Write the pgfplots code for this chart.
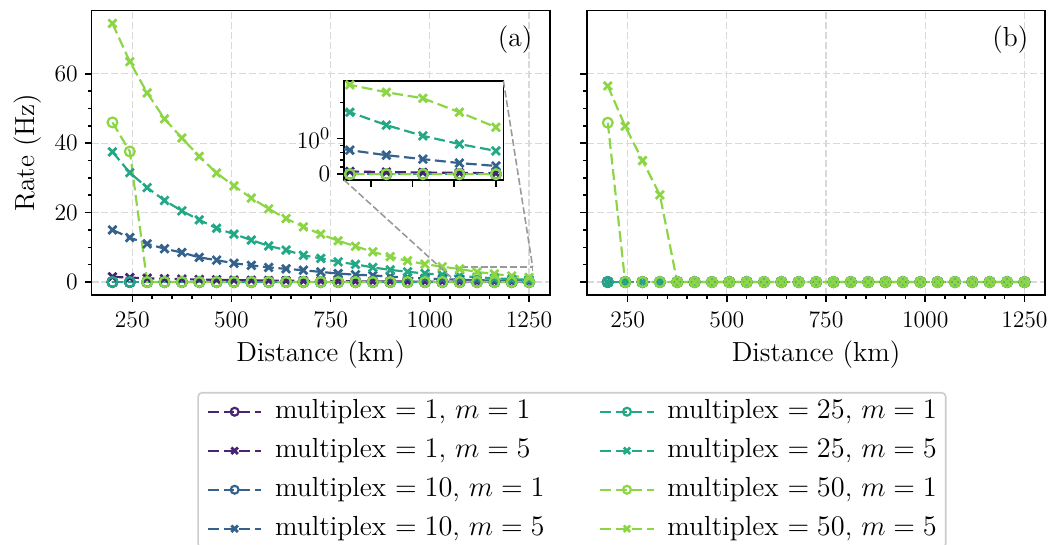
\documentclass[border=0pt]{standalone}
\usepackage{pgfplots}
\usepackage{pgfplotstable}
\pgfplotsset{compat=1.18}

\definecolor{vpurple}{RGB}{72,36,117}
\definecolor{vblue}{RGB}{51,99,141}
\definecolor{vteal}{RGB}{34,168,132}
\definecolor{vgreen}{RGB}{140,214,70}

% rates (Hz) per distance, panel (a)
\pgfplotstableread{
d       r11 r15   r101 r105 r251 r255 r501 r505
200     0   1.49  0    15.0 0    37.5 46.0 74.5
243.75  0   1.27  0    12.8 0    31.5 37.6 63.5
287.5   0   1.09  0    11.0 0    27.2 0    54.5
331.25  0   0.94  0    9.6  0    23.5 0    47.0
375     0   0.83  0    8.5  0    20.5 0    41.5
418.75  0   0.72  0    7.1  0    17.9 0    36.2
462.5   0   0.63  0    6.3  0    15.5 0    31.4
506.25  0   0.55  0    5.4  0    13.8 0    27.7
550     0   0.48  0    4.8  0    12.1 0    24.2
593.75  0   0.42  0    4.2  0    10.4 0    21.1
637.5   0   0.37  0    3.8  0    9.2  0    18.3
681.25  0   0.32  0    3.4  0    7.7  0    15.9
725     0   0.28  0    2.9  0    6.8  0    13.8
768.75  0   0.24  0    2.45 0    5.8  0    11.9
812.5   0   0.21  0    2.1  0    5.1  0    10.3
856.25  0   0.17  0    1.9  0    4.2  0    8.7
900     0   0.15  0    1.54 0    3.5  0    7.3
943.75  0   0.12  0    1.25 0    2.95 0    6.1
987.5   0   0.10  0    1.02 0    2.47 0    5.15
1031.25 0   0.088 0    0.83 0    2.07 0    4.4
1075    0   0.075 0    0.67 0    1.73 0    3.76
1118.75 0   0.058 0    0.53 0    1.37 0    2.89
1162.5  0   0.047 0    0.42 0    1.07 0    2.33
1206.25 0   0.035 0    0.31 0    0.84 0    1.73
1250    0   0.026 0    0.23 0    0.65 0    1.31
}\rateA

% panel (b)
\pgfplotstableread{
d       r11 r15 r101 r105 r251 r255 r501 r505
200     0   0   0    0    0    0    45.9 56.5
243.75  0   0   0    0    0    0    0    44.9
287.5   0   0   0    0    0    0    0    35.0
331.25  0   0   0    0    0    0    0    25.1
375     0   0   0    0    0    0    0    0
418.75  0   0   0    0    0    0    0    0
462.5   0   0   0    0    0    0    0    0
506.25  0   0   0    0    0    0    0    0
550     0   0   0    0    0    0    0    0
593.75  0   0   0    0    0    0    0    0
637.5   0   0   0    0    0    0    0    0
681.25  0   0   0    0    0    0    0    0
725     0   0   0    0    0    0    0    0
768.75  0   0   0    0    0    0    0    0
812.5   0   0   0    0    0    0    0    0
856.25  0   0   0    0    0    0    0    0
900     0   0   0    0    0    0    0    0
943.75  0   0   0    0    0    0    0    0
987.5   0   0   0    0    0    0    0    0
1031.25 0   0   0    0    0    0    0    0
1075    0   0   0    0    0    0    0    0
1118.75 0   0   0    0    0    0    0    0
1162.5  0   0   0    0    0    0    0    0
1206.25 0   0   0    0    0    0    0    0
1250    0   0   0    0    0    0    0    0
}\rateB

\tikzset{
    ser/.style={color=#1, line width=1.1pt, dash pattern=on 5.5pt off 2.4pt},
    mo/.style={ser=#1, mark=o, mark size=2.5pt, mark options={solid, line width=1.1pt}},
    mx/.style={ser=#1, mark=x, mark size=2.9pt, mark options={solid, line width=1.4pt}},
    zoombox/.style={black!40, line width=0.8pt, dash pattern=on 3.5pt off 1.5pt},
}
\pgfplotsset{
    panel/.style={
        scale only axis, width=232.6pt, height=144.3pt,
        xmin=147.5, xmax=1302.5, ymin=-3.73, ymax=78.2,
        xtick={250,500,750,1000,1250}, minor x tick num=4,
        ytick={0,20,40,60}, minor y tick num=3,
        /pgf/number format/set thousands separator={},
        tick align=outside, tick pos=left,
        major tick length=3.5pt, minor tick length=2pt,
        every tick/.style={black, line width=0.8pt},
        tick label style={font=\fontsize{13}{15}\selectfont},
        axis line style={line width=0.8pt},
        grid=major,
        major grid style={black!15, line width=0.6pt, dash pattern=on 3.5pt off 1.5pt},
        xticklabel shift=1.5pt,
        xlabel={Distance (km)},
    },
}

\begin{document}
\begin{tikzpicture}[font=\fontsize{14}{16}\selectfont]
\begin{axis}[panel, name=pa, at={(0pt,0pt)}, anchor=south west,
    ylabel={Rate (Hz)},
    legend columns=4, transpose legend, legend cell align=left,
    legend image code/.code={\draw[mark repeat=2,mark phase=2,#1,
        every mark/.append style={scale=0.8}]
        plot coordinates {(0pt,0pt) (13.5pt,0pt) (27pt,0pt)};},
    legend style={at={(1.048,-0.341)}, anchor=north, draw=black!20,
        line width=0.8pt, rounded corners=2pt, fill=white,
        inner xsep=4.5pt, inner ysep=2.9pt, row sep=6.3pt,
        nodes={inner sep=0pt, text height=10pt, text depth=3.5pt},
        /tikz/every odd column/.append style={column sep=6.5pt},
        /tikz/every even column/.append style={column sep=27.8pt}},
]
\addplot[mo=vpurple] table[x=d, y=r11] {\rateA};
\addlegendentry{multiplex $=1$, $m=1$}
\addplot[mx=vpurple] table[x=d, y=r15] {\rateA};
\addlegendentry{multiplex $=1$, $m=5$}
\addplot[mo=vblue] table[x=d, y=r101] {\rateA};
\addlegendentry{multiplex $=10$, $m=1$}
\addplot[mx=vblue] table[x=d, y=r105] {\rateA};
\addlegendentry{multiplex $=10$, $m=5$}
\addplot[mo=vteal] table[x=d, y=r251] {\rateA};
\addlegendentry{multiplex $=25$, $m=1$}
\addplot[mx=vteal] table[x=d, y=r255] {\rateA};
\addlegendentry{multiplex $=25$, $m=5$}
\addplot[mo=vgreen] table[x=d, y=r501] {\rateA};
\addlegendentry{multiplex $=50$, $m=1$}
\addplot[mx=vgreen] table[x=d, y=r505] {\rateA};
\addlegendentry{multiplex $=50$, $m=5$}
\node at (rel axis cs:0.924,0.897) {(a)};
\draw[zoombox] (axis cs:1068,-0.16) rectangle (axis cs:1259,4.35);
\coordinate (rll) at (axis cs:1068,-0.16);
\coordinate (rur) at (axis cs:1259,4.35);
\end{axis}

% zoomed inset, symlog y (linear below 2)
\begin{axis}[name=ins, at={(128.1pt,58.4pt)}, anchor=south west,
    scale only axis, width=80.9pt, height=50.3pt,
    xmin=1068, xmax=1259, ymin=-0.16, ymax=4.35,
    y coord trafo/.code={\pgfmathparse{(#1<=2) ? (#1) : (2+0.7823*ln(max(#1,2)/2))}},
    xtick={1100,1150,1200,1250}, xticklabels={},
    ytick={0,1}, yticklabels={$0$,$10^0$},
    minor ytick={0.2,0.4,0.6,0.8,2},
    tick label style={font=\fontsize{13}{15}\selectfont},
    tick align=outside, tick pos=left,
    major tick length=3.5pt, minor tick length=2pt,
    every tick/.style={black, line width=0.8pt},
    axis line style={line width=0.8pt},
    axis background/.style={fill=white},
]
\addplot[mo=vpurple] table[x=d, y=r11] {\rateA};
\addplot[mx=vpurple] table[x=d, y=r15] {\rateA};
\addplot[mo=vblue] table[x=d, y=r101] {\rateA};
\addplot[mx=vblue] table[x=d, y=r105] {\rateA};
\addplot[mo=vteal] table[x=d, y=r251] {\rateA};
\addplot[mx=vteal] table[x=d, y=r255] {\rateA};
\addplot[mo=vgreen] table[x=d, y=r501] {\rateA};
\addplot[mx=vgreen] table[x=d, y=r505] {\rateA};
\end{axis}
\draw[zoombox] (ins.south west) -- (rll);
\draw[zoombox] (ins.north east) -- (rur);

\begin{axis}[panel, name=pb, at={(251.4pt,0pt)}, anchor=south west,
    yticklabels={},
]
\addplot[mo=vpurple] table[x=d, y=r11] {\rateB};
\addplot[mx=vpurple] table[x=d, y=r15] {\rateB};
\addplot[mo=vblue] table[x=d, y=r101] {\rateB};
\addplot[mx=vblue] table[x=d, y=r105] {\rateB};
\addplot[mo=vteal] table[x=d, y=r251] {\rateB};
\addplot[mx=vteal] table[x=d, y=r255] {\rateB};
\addplot[mo=vgreen] table[x=d, y=r501] {\rateB};
\addplot[mx=vgreen] table[x=d, y=r505] {\rateB};
\node at (rel axis cs:0.924,0.897) {(b)};
\end{axis}

\pgfresetboundingbox
\useasboundingbox (-46.5pt,-126.9pt) rectangle (485.9pt,149.7pt);
\end{tikzpicture}
\end{document}
